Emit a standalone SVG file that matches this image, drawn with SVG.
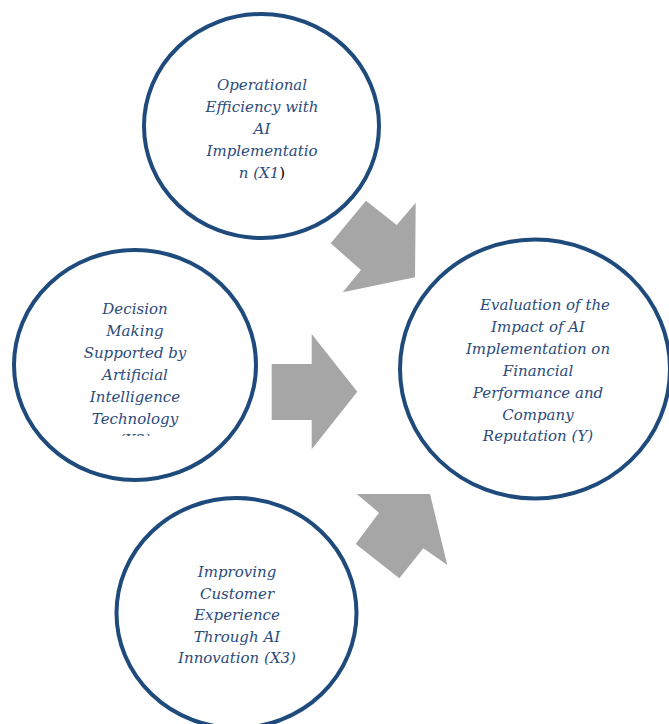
<svg xmlns="http://www.w3.org/2000/svg" width="669" height="724" viewBox="0 0 669 724">
<style>
.c{fill:#fff;stroke:#1F4A7C;stroke-width:4}
.a{fill:#A6A6A6;stroke:none}
.t{font-family:"DejaVu Serif","Liberation Serif",serif;font-style:italic;font-size:15px;fill:#2B4B7B;text-anchor:middle}
</style>
<defs><clipPath id="clipX2"><rect x="0" y="240" width="260" height="196"/></clipPath></defs>
<g id="connectors">
<polygon class="a" points="366,200.7 396.7,225 415.7,202.7 415,277.3 342.7,292.3 361,270 330.7,243.3"/>
<polygon class="a" points="271.7,364 311.7,364 311.7,334 357.3,391.7 311.7,449.3 311.7,420 271.7,420"/>
<polygon class="a" points="356.7,494 430,494 447.3,565 423.3,548.3 399.3,578.3 355.7,544 379,512.7"/>
</g>
<g id="x1">
<ellipse class="c" cx="261.5" cy="126" rx="117.5" ry="112"/>
<text class="t" x="262"><tspan x="262" y="90">Operational</tspan><tspan x="262" y="112">Efficiency with</tspan><tspan x="262" y="134">AI</tspan><tspan x="262" y="156">Implementatio</tspan><tspan x="262" y="178">n (X1<tspan style="fill:#000;font-style:normal">)</tspan></tspan></text>
</g>
<g id="x2">
<ellipse class="c" cx="135" cy="365" rx="121" ry="115"/>
<text class="t" clip-path="url(#clipX2)"><tspan x="135" y="314">Decision</tspan><tspan x="135" y="336">Making</tspan><tspan x="135" y="358">Supported by</tspan><tspan x="135" y="380">Artificial</tspan><tspan x="135" y="402">Intelligence</tspan><tspan x="135" y="424">Technology</tspan><tspan x="135" y="445">(X2)</tspan></text>
</g>
<g id="y">
<ellipse class="c" cx="535" cy="369" rx="135" ry="129.5"/>
<text class="t"><tspan x="545" y="310">Evaluation of the</tspan><tspan x="538" y="332">Impact of AI</tspan><tspan x="538" y="354">Implementation on</tspan><tspan x="538" y="376">Financial</tspan><tspan x="538" y="398">Performance and</tspan><tspan x="538" y="420">Company</tspan><tspan x="538" y="441">Reputation (Y)</tspan></text>
</g>
<g id="x3">
<ellipse class="c" cx="236.5" cy="613" rx="120" ry="115"/>
<text class="t"><tspan x="237" y="577">Improving</tspan><tspan x="237" y="599">Customer</tspan><tspan x="237" y="620">Experience</tspan><tspan x="237" y="642">Through AI</tspan><tspan x="237" y="663">Innovation (X3)</tspan></text>
</g>
</svg>
